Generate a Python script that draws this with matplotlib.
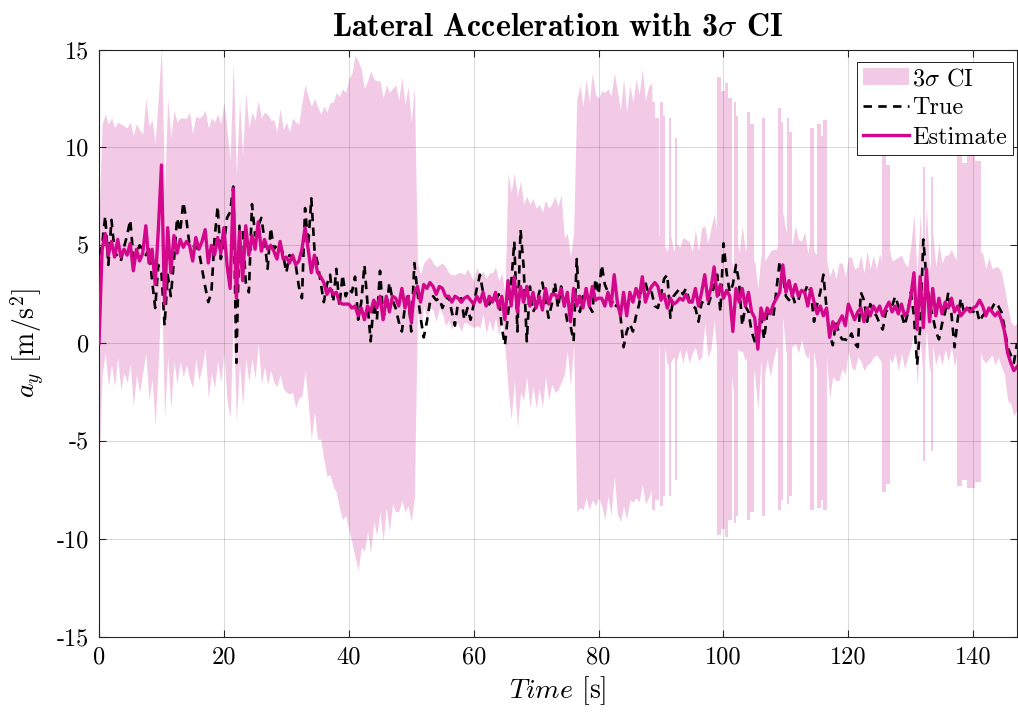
import numpy as np
import matplotlib.pyplot as plt

plt.rcParams['mathtext.fontset'] = 'cm'
plt.rcParams['font.family'] = 'serif'
plt.rcParams['font.serif'] = ['cmr10', 'DejaVu Serif']
plt.rcParams['axes.unicode_minus'] = False

# sample times [s], one value every 0.5 s
t = np.arange(0, 147.01, 0.5)

# estimated lateral acceleration [m/s^2]
est = [
    0.0, 4.8, 5.6, 4.5, 5.2, 4.4, 5.3, 4.4, 4.8, 4.5,
    5.1, 3.7, 4.8, 4.2, 4.6, 6.0, 4.1, 4.8, 3.0, 5.8,
    9.1, 2.0, 5.9, 3.6, 5.5, 4.6, 5.3, 4.9, 5.2, 5.0,
    4.2, 5.4, 4.8, 5.2, 5.8, 4.1, 5.0, 4.5, 5.4, 4.6,
    5.9, 4.0, 2.8, 7.9, 2.3, 5.7, 3.2, 6.0, 4.5, 5.5,
    4.8, 6.2, 4.7, 5.3, 4.8, 5.0, 4.7, 4.3, 5.2, 4.3,
    4.4, 4.1, 4.5, 4.0, 4.2, 4.8, 5.9, 4.8, 3.6, 4.5,
    3.6, 3.4, 3.1, 2.5, 2.8, 2.5, 2.6, 2.1, 2.0, 2.0,
    2.0, 1.8, 1.9, 1.4, 1.8, 1.2, 1.9, 1.6, 2.2, 1.8,
    2.4, 1.2, 2.4, 1.6, 2.4, 2.3, 1.9, 2.8, 1.8, 2.4,
    1.1, 2.6, 2.9, 2.1, 3.0, 2.8, 3.1, 2.9, 2.5, 2.9,
    2.8, 2.4, 2.4, 2.1, 2.4, 2.3, 2.1, 2.3, 2.4, 2.2,
    2.0, 2.4, 2.1, 2.6, 1.9, 2.4, 2.1, 2.6, 1.8, 2.4,
    1.2, 3.2, 1.9, 3.4, 1.6, 2.9, 2.1, 2.9, 1.9, 2.6,
    1.8, 2.4, 1.7, 2.8, 2.0, 2.5, 2.5, 2.3, 2.8, 1.9,
    2.6, 1.1, 2.8, 1.9, 2.4, 1.8, 2.8, 1.9, 2.9, 2.2,
    2.3, 2.3, 1.9, 2.6, 1.9, 3.5, 2.1, 1.4, 2.6, 1.4,
    2.6, 2.1, 2.8, 2.3, 3.4, 2.1, 2.6, 2.9, 3.1, 2.9,
    2.2, 2.5, 1.8, 2.3, 2.0, 2.1, 2.3, 2.2, 2.5, 2.1,
    2.1, 2.8, 1.9, 2.6, 3.5, 2.2, 2.8, 3.9, 2.4, 3.0,
    2.3, 2.7, 2.4, 0.6, 2.8, 2.1, 2.8, 1.9, 2.6, 1.6,
    1.3, -0.3, 1.8, 1.2, 1.8, 1.5, 2.0, 2.3, 2.6, 4.0,
    2.6, 3.2, 2.4, 3.0, 2.4, 2.7, 2.6, 1.9, 2.8, 2.1,
    1.5, 1.9, 1.4, 1.8, 0.3, 1.1, 0.7, 1.1, 1.4, 0.9,
    2.0, 1.6, 1.2, 1.6, 1.8, 1.1, 1.8, 1.4, 1.9, 1.6,
    1.9, 1.4, 1.8, 2.1, 1.6, 1.9, 1.5, 2.0, 1.4, 1.6,
    2.4, 3.6, 0.7, 3.4, 0.8, 3.8, 1.1, 2.8, 1.4, 2.3,
    1.5, 2.1, 1.8, 2.3, 1.6, 1.9, 1.4, 1.6, 1.8, 1.6,
    1.8, 1.9, 2.2, 1.9, 1.4, 1.8, 1.6, 1.4, 1.6, 1.2,
    0.6, -0.5, -1.0, -1.4, -1.2,
]

# true lateral acceleration [m/s^2]
true = [
    4.5, 5.0, 6.5, 4.0, 6.3, 4.7, 4.4, 4.2, 4.9, 5.5,
    6.3, 4.4, 4.6, 5.0, 4.8, 4.5, 4.8, 3.2, 1.8, 4.0,
    3.6, 0.9, 3.5, 2.4, 4.2, 6.4, 5.7, 7.2, 6.3, 5.0,
    4.9, 5.0, 4.7, 3.8, 2.9, 2.1, 2.6, 5.3, 7.0, 4.3,
    5.0, 6.4, 6.7, 8.0, -1.0, 6.0, 5.9, 3.1, 2.6, 7.1,
    5.5, 6.0, 6.4, 5.3, 3.8, 5.9, 4.8, 5.0, 5.1, 4.5,
    3.6, 4.5, 4.3, 4.0, 2.9, 2.3, 6.9, 5.0, 7.4, 4.8,
    4.1, 3.1, 2.1, 3.0, 3.5, 2.1, 3.8, 1.9, 3.5, 2.4,
    2.8, 2.6, 3.4, 1.2, 2.1, 4.0, 2.0, 0.1, 2.1, 1.2,
    3.7, 1.4, 1.6, 3.1, 2.2, 1.8, 1.1, 0.6, 1.9, 2.6,
    0.6, 4.1, 2.6, 1.3, 0.3, 1.1, 2.1, 2.4, 2.2, 2.3,
    1.8, 2.2, 2.4, 1.6, 0.9, 2.1, 2.3, 1.2, 1.8, 1.2,
    2.0, 2.8, 3.5, 2.6, 1.8, 2.0, 2.4, 2.2, 2.5, 0.8,
    -0.1, 1.5, 3.0, 5.2, 0.6, 5.8, 3.9, 0.1, 2.9, 1.6,
    1.9, 2.6, 3.1, 2.2, 1.3, 2.0, 3.1, 1.8, 2.9, 2.0,
    1.1, 0.9, 0.1, 4.3, 1.6, 2.4, 2.0, 1.9, 1.6, 3.3,
    2.5, 4.0, 3.0, 2.6, 2.3, 1.8, 2.0, 1.4, -0.2, 0.6,
    1.0, 0.6, 1.4, 2.0, 3.1, 3.1, 2.5, 2.6, 1.9, 1.8,
    2.5, 3.3, 3.5, 1.3, 2.4, 2.6, 2.8, 2.5, 2.8, 2.2,
    1.9, 1.8, 1.1, 2.1, 2.0, 1.9, 2.4, 2.9, 3.5, 1.6,
    5.1, 3.6, 2.6, 3.0, 4.0, 3.1, 0.9, 1.9, 1.6, 0.6,
    0.1, 1.0, 1.3, 0.2, 1.5, 1.6, 1.4, 2.8, 4.2, 3.5,
    2.4, 2.2, 2.5, 2.0, 2.2, 2.8, 2.6, 3.0, 2.6, 1.1,
    2.0, 2.6, 3.5, 1.8, 0.5, -0.1, 1.1, 0.5, 0.2, 0.2,
    0.1, 0.5, 0.0, -0.2, 2.6, 2.2, 1.1, 2.0, 1.6, 1.4,
    1.0, 0.7, 1.6, 1.8, 1.9, 2.4, 1.9, 1.5, 0.9, 1.5,
    2.6, 1.4, -1.1, 0.8, 5.3, 3.3, 2.0, 1.4, 0.6, 0.2,
    1.0, 1.6, 2.6, 1.5, -0.2, 1.2, 2.3, 1.6, 1.7, 1.8,
    1.6, 1.8, 1.1, 1.4, 1.6, 1.5, 1.8, 2.1, 1.9, 1.6,
    0.8, -0.2, -0.6, -1.0, 0.0,
]

# 3-sigma half width of the confidence band
ci3 = [
    6.2, 6.4, 6.1, 6.7, 6.3, 6.6, 6.0, 6.8, 6.3, 6.5,
    6.2, 6.9, 6.4, 6.7, 6.1, 6.5, 7.0, 6.6, 7.2, 6.8,
    6.0, 5.8, 6.6, 6.9, 6.4, 6.7, 6.2, 6.6, 6.3, 6.8,
    6.5, 6.2, 6.7, 6.4, 6.1, 6.9, 6.5, 6.8, 6.3, 6.6,
    6.4, 6.9, 6.6, 6.5, 6.3, 6.7, 6.4, 6.8, 6.5, 6.3,
    6.6, 6.2, 6.8, 6.5, 6.9, 6.4, 6.7, 6.5, 6.8, 6.6,
    6.9, 6.7, 7.0, 7.3, 7.0, 7.5, 7.3, 7.8, 8.5, 8.0,
    8.5, 8.3, 9.0, 9.3, 9.5, 9.8, 10.2, 10.5, 11.0, 10.8,
    11.5, 12.0, 12.8, 13.0, 12.2, 11.8, 11.5, 12.3, 11.3, 11.6,
    11.0, 11.3, 10.8, 11.2, 10.6, 10.9, 10.5, 10.8, 10.4, 10.7,
    10.2, 10.5, 1.2, 1.4, 1.1, 1.5, 1.3, 1.2, 1.4, 1.1,
    1.3, 1.5, 1.2, 1.4, 1.1, 1.3, 1.5, 1.2, 1.4, 1.3,
    1.2, 1.5, 1.3, 1.1, 1.4, 1.2, 1.5, 1.3, 1.4, 1.2,
    1.3, 5.5, 5.8, 5.3, 5.9, 5.4, 5.0, 4.6, 5.2, 4.8,
    5.1, 4.7, 5.0, 4.5, 4.9, 4.6, 5.0, 4.7, 4.8, 3.5,
    3.0, 3.3, 2.8, 10.5, 10.8, 10.3, 10.7, 10.4, 10.9, 10.5,
    10.2, 10.6, 10.9, 10.4, 10.7, 10.3, 10.8, 10.5, 10.9, 10.4,
    10.6, 10.2, 10.7, 10.4, 10.6, 10.3, 10.5, 10.4, 3.0, 2.7,
    3.1, 2.5, 2.9, 3.3, 2.7, 3.0, 2.6, 3.2, 2.8, 3.1,
    2.6, 3.0, 2.8, 3.3, 2.5, 2.9, 3.1, 2.7, 3.2, 2.8,
    2.6, 3.0, 2.7, 3.1, 2.9, 2.5, 3.2, 2.8, 3.0, 2.6,
    2.9, 3.1, 2.7, 3.0, 2.6, 3.2, 2.8, 2.5, 3.0, 2.7,
    3.1, 2.8, 2.6, 3.0, 2.9, 2.5, 3.1, 2.7, 2.9, 2.6,
    3.0, 2.7, 2.9, 2.5, 3.1, 2.8, 2.6, 3.0, 2.7, 2.5,
    2.4, 2.8, 2.6, 2.3, 2.7, 2.5, 2.9, 2.4, 2.6, 2.2,
    2.7, 2.5, 2.3, 2.8, 2.6, 2.4, 2.9, 2.5, 2.7, 2.3,
    2.6, 3.0, 2.8, 3.2, 2.7, 3.1, 2.6, 2.9, 2.5, 2.8,
    2.6, 2.4, 2.7, 2.5, 2.8, 2.3, 2.6, 2.4, 2.7, 2.5,
    2.6, 2.3, 2.5, 2.7, 2.4, 2.6, 2.2, 2.5, 2.3, 2.4,
    2.2, 2.4, 2.1, 2.3, 2.2,
]

# short bursts where the band opens up: start [s], end [s], upper, lower
burst_t0 = [88.6, 89.0, 89.9, 90.3, 91.2, 92.3,
            99.0, 99.6, 100.2, 100.7, 101.7, 102.0, 103.7, 104.2, 106.1,
            108.8, 109.2, 110.1, 110.5, 113.9, 115.0, 115.6, 116.0,
            125.4, 126.0, 132.0, 133.3, 137.4, 138.2, 139.0, 140.2]
burst_t1 = [89.0, 89.6, 90.3, 90.6, 91.6, 92.5,
            99.6, 100.2, 100.7, 101.3, 102.0, 102.3, 104.2, 104.9, 106.6,
            109.2, 109.6, 110.5, 110.9, 114.5, 115.6, 116.0, 116.6,
            126.0, 126.6, 132.3, 133.6, 138.2, 139.0, 140.2, 141.3]
burst_hi = [12.3, 11.5, 12.3, 11.6, 11.5, 10.5,
            13.6, 12.9, 13.3, 12.5, 12.3, 11.6, 11.8, 11.2, 11.5,
            12.0, 11.3, 11.5, 10.8, 11.0, 11.2, 10.6, 11.4,
            9.6, 9.1, 9.0, 8.5, 9.7, 9.2, 9.8, 9.3]
burst_lo = [-8.5, -8.0, -8.3, -7.8, -7.8, -7.0,
            -9.8, -9.5, -9.9, -9.0, -9.2, -8.8, -9.0, -8.6, -8.8,
            -8.5, -8.0, -8.2, -7.8, -8.5, -8.4, -8.0, -8.5,
            -7.6, -7.2, -6.0, -5.5, -7.3, -7.0, -7.4, -7.1]

est = np.array(est)
true = np.array(true)
ci3 = np.array(ci3)

band_col = '#F3CAE6'
est_col = '#D2078C'

fig = plt.figure(figsize=(10.18, 7.13), dpi=100)
ax = fig.add_axes([99 / 1018, 76 / 713, 918 / 1018, 587.5 / 713])

ax.fill_between(t, est - ci3, est + ci3, color=band_col, lw=0, zorder=1, label=r'3$\sigma$ CI')
for a, b, hi, lo in zip(burst_t0, burst_t1, burst_hi, burst_lo):
    ax.fill_between([a, b], [lo, lo], [hi, hi], color=band_col, lw=0, zorder=1)

ax.plot(t, true, color='k', lw=1.9, ls=(0, (3.2, 2.4)), zorder=3, label='True')
ax.plot(t, est, color=est_col, lw=2.4, zorder=4, label='Estimate')

ax.set_xlim(0, 147)
ax.set_ylim(-15, 15)
xt = [0, 20, 40, 60, 80, 100, 120, 140]
yt = [-15, -10, -5, 0, 5, 10, 15]
ax.set_xticks(xt)
ax.set_xticklabels([str(v) for v in xt])
ax.set_yticks(yt)
ax.set_yticklabels([str(v) for v in yt])
ax.tick_params(direction='in', top=True, right=True, length=5, width=0.8,
               labelsize=17.5, pad=7, color='#262626')
ax.set_axisbelow(False)
ax.grid(True, color='k', alpha=0.15, lw=0.7)
for s in ax.spines.values():
    s.set_linewidth(0.8)
    s.set_color('#262626')

ax.set_title(r'Lateral Acceleration with 3$\sigma$ CI', fontsize=23,
             fontfamily='cmb10', pad=10)
ax.set_xlabel(r'$Time$ [s]', fontsize=20, labelpad=4)
ax.set_ylabel(r'$a_y$ [m/s$^2$]', fontsize=20, labelpad=8)

leg = ax.legend(loc='upper right', bbox_to_anchor=(0.9956, 0.979), fontsize=17.5,
                frameon=True, fancybox=False, edgecolor='k', framealpha=1,
                borderpad=0.25, labelspacing=0.3, handlelength=1.9,
                handletextpad=0.12, borderaxespad=0)
leg.get_frame().set_linewidth(0.6)

fig.savefig('out.png', dpi=100)
